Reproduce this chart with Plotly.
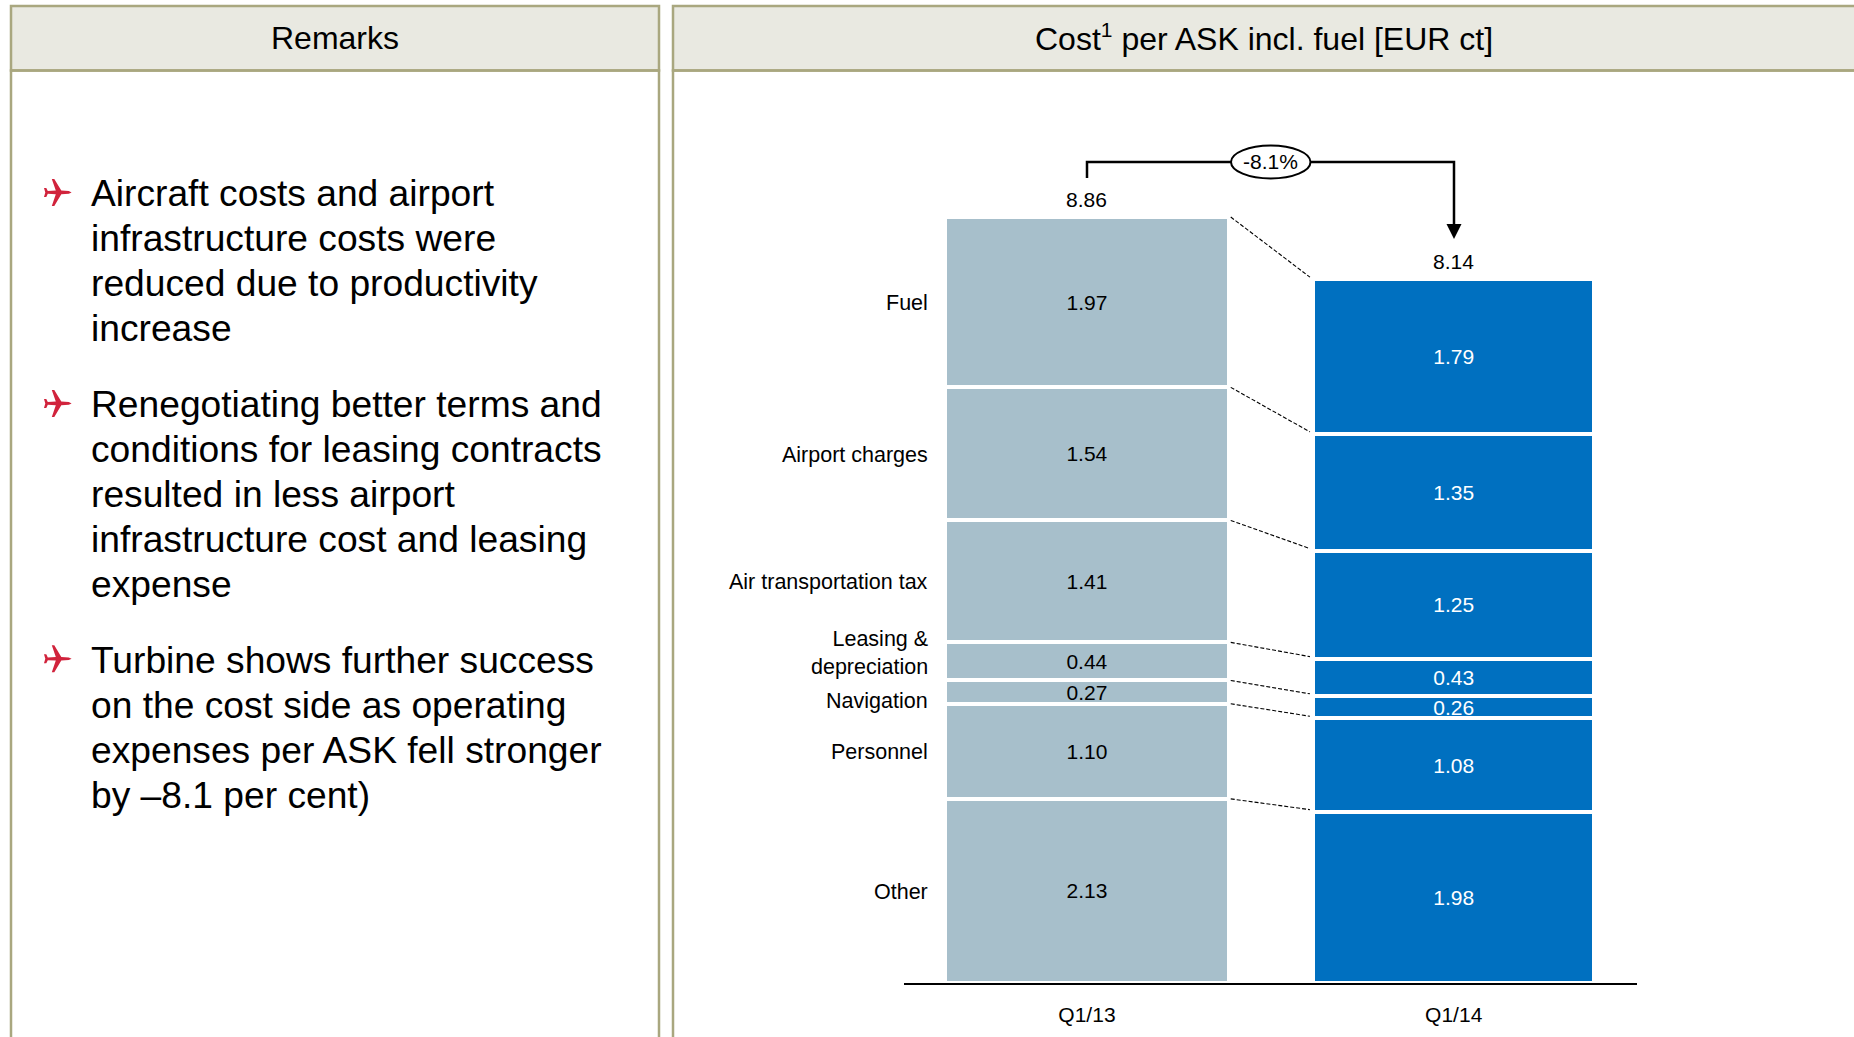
import plotly.graph_objects as go

W, H = 1854, 1037
categories = ["Other", "Personnel", "Navigation", "Leasing &<br>depreciation", "Air transportation tax", "Airport charges", "Fuel"]
q1_13 = [2.13, 1.10, 0.27, 0.44, 1.41, 1.54, 1.97]
q1_14 = [1.98, 1.08, 0.26, 0.43, 1.25, 1.35, 1.79]
quarters = ["Q1/13", "Q1/14"]
totals = [8.86, 8.14]
change = "-8.1%"
headers = ["Remarks", "Cost<sup><span style='font-size:21px'>1</span></sup> per ASK incl. fuel [EUR ct]"]
remarks = [
    ["Aircraft costs and airport", "infrastructure costs were", "reduced due to productivity", "increase"],
    ["Renegotiating better terms and", "conditions for leasing contracts", "resulted in less airport", "infrastructure cost and leasing", "expense"],
    ["Turbine shows further success", "on the cost side as operating", "expenses per ASK fell stronger", "by –8.1 per cent)"],
]

FONT = "Liberation Sans"
GREY, BLUE = "#A7BFCB", "#0070C0"
BORDER, HEAD = "#A9A77F", "#E9E9E1"

px = lambda x: x / W
py = lambda y: 1 - y / H

fig = go.Figure()
cum0, cum1 = 0.0, 0.0
for c, a, b in zip(categories, q1_13, q1_14):
    fig.add_trace(go.Bar(
        x=[0, 1], y=[a, b], name=c, width=[0.773, 0.765],
        marker=dict(color=[GREY, BLUE], line=dict(color="white", width=4)),
        text=[f"{a:.2f}", f"{b:.2f}"], textposition="inside", insidetextanchor="middle",
        textangle=0, constraintext="none",
        insidetextfont=dict(family=FONT, size=21, color=["black", "white"]),
        hoverinfo="skip", showlegend=False, cliponaxis=False,
    ))

# dashed connectors between stack boundaries
tops0, tops1 = [], []
for a, b in zip(q1_13, q1_14):
    cum0 += a
    cum1 += b
    tops0.append(cum0)
    tops1.append(cum1)
for a, b in zip(tops0, tops1):
    fig.add_trace(go.Scatter(
        x=[0.392, 0.608], y=[a, b + 0.025], mode="lines",
        line=dict(color="#000000", width=1.1, dash="4px,2px"),
        hoverinfo="skip", showlegend=False,
    ))

ann = []
def text(x, y, s, size=21, anchor="center", color="black", **kw):
    d = dict(x=x, y=y, text=s, showarrow=False, xanchor=anchor, yanchor="middle",
             font=dict(family=FONT, size=size, color=color), borderpad=0, borderwidth=0)
    d.update(kw)
    ann.append(d)

# category labels beside the first stack
base = 0.0
shifts = {"Leasing &<br>depreciation": 8, "Navigation": -9}
for c, a in zip(categories, q1_13):
    text(px(928), base + a / 2, c, size=21.5, anchor="right", align="right", xref="paper", yref="y", yshift=shifts.get(c, -1))
    base += a

# totals above the stacks
for i, t in enumerate(totals):
    text(i, t, f"{t:.2f}", xref="x", yref="y", yanchor="bottom", yshift=6)

# panel headers
text(px(334.5), py(38), headers[0], size=32, xref="paper", yref="paper")
text(px(1264), py(37), headers[1], size=32, xref="paper", yref="paper")

# remarks
starts = [192.7, 403.5, 660]
for para, s in zip(remarks, starts):
    for i, line in enumerate(para):
        text(px(91), py(s + i * 45), line, size=37.2, anchor="left", xref="paper", yref="paper")

# change label
text(px(1270.5), py(162), change, xref="paper", yref="paper")

shapes = []
def rect(x0, y0, x1, y1, fill="rgba(0,0,0,0)", line=BORDER, lw=2.5):
    shapes.append(dict(type="rect", xref="paper", yref="paper", x0=px(x0), x1=px(x1), y0=py(y0), y1=py(y1),
                       fillcolor=fill, line=dict(color=line, width=lw)))

for x0, x1 in [(11, 659), (673, 1870)]:
    rect(x0, 6, x1, 70.5, fill=HEAD)
    rect(x0, 70.5, x1, 1060)

def poly(points, fill, line=None):
    d = "M" + " L".join(f"{px(x):.6f},{py(y):.6f}" for x, y in points) + " Z"
    shapes.append(dict(type="path", xref="paper", yref="paper", path=d, fillcolor=fill,
                       line=dict(width=0)))

def seg(points, lw=2.5):
    d = "M" + " L".join(f"{px(x):.6f},{py(y):.6f}" for x, y in points)
    shapes.append(dict(type="path", xref="paper", yref="paper", path=d, line=dict(color="black", width=lw)))

# change bracket
seg([(1087, 178), (1087, 162), (1454, 162), (1454, 226)])
poly([(1446.5, 224), (1461.5, 224), (1454, 239)], "black")
shapes.append(dict(type="circle", xref="paper", yref="paper", x0=px(1231), x1=px(1310.5),
                   y0=py(145.5), y1=py(178.5), fillcolor="white", line=dict(color="black", width=2)))

# plane bullets
plane = [(13.8, 0), (11, 1.3), (3.5, 1.8), (-3.5, 13.5), (-6, 13.5), (-2, 1.8), (-10, 1.4), (-11.5, 4.5), (-13.8, 4.5),
         (-12.5, 0), (-13.8, -4.5), (-11.5, -4.5), (-10, -1.4), (-2, -1.8), (-6, -13.5), (-3.5, -13.5), (3.5, -1.8), (11, -1.3)]
for cy in [192.4, 403.4, 658.8]:
    poly([(57.8 + x, cy + y) for x, y in plane], "#D1233C")

fig.update_layout(
    width=W, height=H, margin=dict(l=0, r=0, t=0, b=0),
    paper_bgcolor="white", plot_bgcolor="white", barmode="stack", autosize=False,
    xaxis=dict(domain=[px(903.6), px(1637.1)], range=[-0.5, 1.5], tickvals=[0, 1], ticktext=quarters,
               showgrid=False, zeroline=False, showline=True, linecolor="black", linewidth=2,
               ticks="", ticklabelstandoff=12, tickfont=dict(family=FONT, size=21, color="black")),
    yaxis=dict(domain=[1 - 983 / H, 1 - 100 / H], range=[0, 883 / 86.45], visible=False),
    annotations=ann, shapes=shapes,
)
fig.write_html("out.html", config=dict(displayModeBar=False),
               post_script="document.body.style.margin='0';document.body.style.overflow='hidden';")
